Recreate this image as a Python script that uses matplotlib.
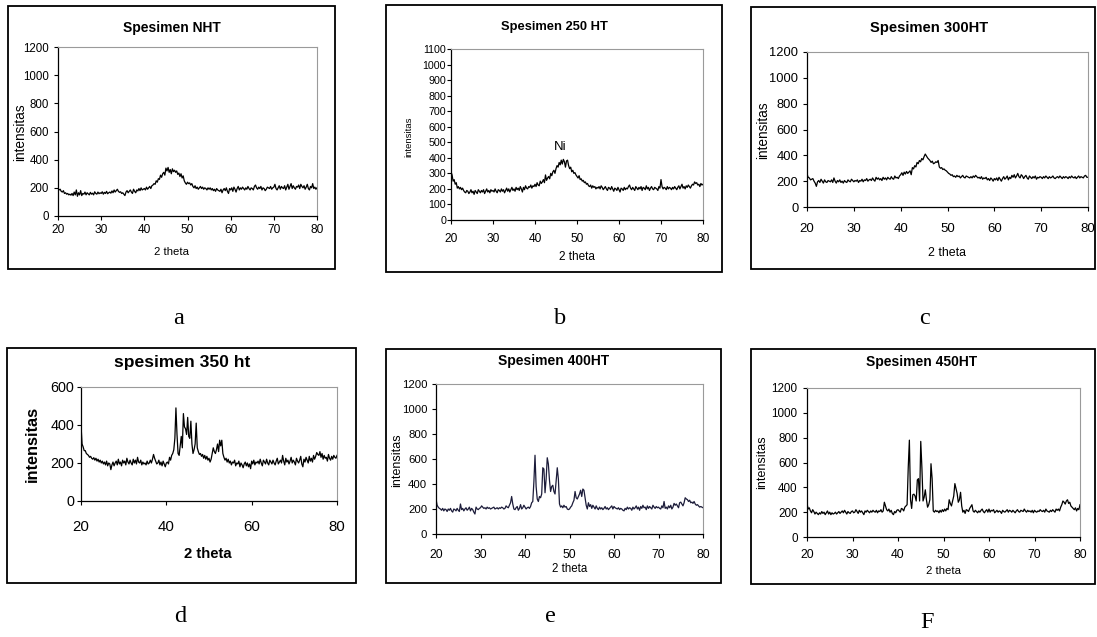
import numpy as np
import matplotlib
matplotlib.use("Agg")
import matplotlib.pyplot as plt
from matplotlib.patches import Rectangle

plt.rcParams['font.family'] = ['Liberation Sans', 'DejaVu Sans']

# ---------------- data (2-theta step 0.25 deg, 20..80) ----------------
int_nht = [
    195,185,190,175,170,180,160,165,155,160,150,155,148,160,145,170,150,185,140,165,
    150,180,145,160,155,170,150,165,158,150,168,155,162,150,172,160,155,170,158,165,
    160,172,155,168,160,175,158,165,170,162,178,165,185,170,180,190,175,168,172,160,
    165,155,145,170,180,165,175,185,170,160,190,175,165,185,178,195,180,200,185,190,
    195,185,205,190,200,210,195,215,220,230,225,250,240,265,260,290,275,300,310,290,
    340,320,345,310,330,300,335,315,325,310,320,295,305,280,300,270,285,250,235,225,
    240,230,235,220,230,210,200,215,195,205,190,200,210,195,205,190,200,195,185,200,
    190,200,185,195,180,190,175,195,185,180,175,190,165,185,195,180,200,175,160,195,
    185,200,175,205,190,170,195,210,185,200,190,205,195,185,200,190,210,195,185,200,
    195,185,210,220,200,190,205,195,210,185,200,195,180,190,205,200,195,210,190,200,
    205,225,195,185,200,215,190,210,200,195,215,185,205,225,190,210,230,195,215,200,
    190,210,205,220,195,225,210,200,215,190,205,225,195,185,210,200,230,195,205,190,
    200]

int_250 = [
    310,290,250,260,230,240,205,215,200,210,195,205,190,180,175,190,185,170,180,195,
    175,185,165,190,180,170,195,185,175,190,180,195,170,185,200,180,190,175,195,185,
    190,180,200,185,175,195,190,180,200,185,195,175,190,205,185,200,180,195,210,190,
    200,185,210,195,205,190,215,200,180,210,195,220,205,200,215,210,225,205,220,215,
    230,215,240,225,220,250,235,245,260,240,290,255,270,280,265,300,285,310,320,300,
    330,350,340,370,355,385,360,390,375,340,380,385,350,330,340,310,320,300,305,290,
    280,270,285,260,265,250,255,240,245,230,235,220,215,225,205,220,210,215,200,210,
    205,215,200,220,210,195,205,215,200,190,210,205,195,215,200,185,205,200,190,210,
    195,180,205,200,190,210,195,205,200,215,225,205,195,210,200,190,215,205,195,210,
    200,215,190,210,205,195,220,200,210,190,205,215,200,195,210,205,200,190,215,205,
    260,215,200,210,205,195,215,200,210,205,195,210,200,215,205,195,210,220,200,215,
    230,205,215,200,220,210,225,215,205,220,230,225,245,235,240,225,230,215,235,225,
    230]

int_300 = [
    255,230,225,210,215,220,200,185,160,195,205,190,215,200,185,210,195,190,205,200,
    195,210,190,225,200,185,205,195,210,190,200,185,205,195,190,210,200,195,215,205,
    195,205,200,210,190,205,200,215,195,210,205,220,200,210,215,205,225,210,200,230,
    215,225,210,220,205,230,215,225,210,230,220,215,235,220,215,240,225,230,220,240,
    250,265,245,270,255,275,260,270,280,250,305,295,320,310,345,335,360,350,375,365,
    390,410,395,380,370,360,345,355,335,340,350,345,360,310,300,305,290,295,285,280,
    270,260,255,245,250,235,240,230,245,235,240,225,235,245,230,225,240,235,230,225,
    235,225,240,230,245,235,225,230,220,235,215,225,220,230,210,220,205,225,215,200,
    220,210,225,205,230,215,200,220,235,215,225,240,210,230,220,245,230,250,225,240,
    260,235,225,250,240,220,235,245,225,215,240,230,220,235,225,240,215,230,225,235,
    230,220,235,225,240,230,220,235,225,230,240,225,220,230,235,225,240,230,220,235,
    225,235,230,220,235,225,240,230,225,235,220,230,240,225,235,230,225,240,245,230,
    230]

int_350 = [
    400,300,285,265,265,250,245,240,230,235,225,220,228,215,225,210,220,205,215,200,
    210,195,205,190,210,185,200,195,165,190,205,185,200,210,190,220,195,205,185,215,
    200,210,190,225,205,195,215,200,190,220,200,215,195,230,205,200,215,190,205,195,
    200,190,210,195,200,215,200,220,245,225,210,195,200,215,190,205,185,210,195,180,
    200,205,195,230,215,240,250,270,330,490,350,250,240,290,340,280,460,390,380,350,
    440,340,330,420,300,250,270,300,410,280,260,245,250,235,245,225,240,220,235,215,
    225,205,220,250,280,260,250,270,300,260,320,290,320,250,230,215,225,205,220,200,
    210,190,205,200,215,185,200,195,210,180,200,190,175,195,205,185,200,180,195,170,
    210,195,215,190,205,200,210,195,220,200,185,215,205,195,220,200,190,215,205,195,
    215,200,190,210,225,195,205,215,200,240,210,190,225,205,215,195,210,230,200,215,
    205,190,225,210,200,215,235,195,180,220,205,230,215,200,235,210,225,205,240,220,
    235,255,245,240,260,230,250,220,240,225,230,210,245,225,215,235,220,240,230,225,
    240]

int_400 = [
    280,230,215,205,200,190,205,185,200,195,180,200,190,205,185,175,200,195,185,205,
    190,180,240,195,205,185,200,210,190,200,215,185,205,195,175,160,215,200,195,205,
    210,225,215,205,210,200,215,205,210,200,205,210,215,200,205,210,200,210,205,215,
    210,200,205,225,215,210,230,250,300,240,200,195,210,220,190,205,235,200,210,230,
    215,200,210,215,205,220,250,260,420,630,380,280,260,300,290,320,530,520,330,440,
    610,560,430,340,380,390,340,320,420,530,440,240,215,225,210,230,215,220,200,195,
    200,215,225,250,270,340,290,280,300,320,350,300,360,350,290,230,200,250,220,235,
    205,230,215,200,225,205,195,215,200,210,195,205,220,200,210,195,205,215,225,200,
    220,210,205,200,210,195,205,200,190,185,205,195,215,200,210,205,190,215,200,210,
    225,200,215,190,220,205,230,210,215,195,225,205,220,210,200,230,215,205,220,210,
    215,205,200,225,210,260,205,215,200,225,210,230,200,215,245,230,240,225,210,250,
    255,240,225,250,290,280,275,260,270,250,255,245,260,240,230,235,225,215,220,215,
    210]

int_450 = [
    270,225,235,210,195,220,205,185,200,190,180,195,185,205,190,200,180,195,210,185,
    200,180,195,185,190,200,185,195,205,190,200,210,195,215,200,185,205,195,190,205,
    210,195,200,220,205,190,215,200,210,195,180,210,200,215,205,195,210,200,215,205,
    200,215,195,210,205,220,200,210,280,250,220,210,225,200,215,190,180,205,195,215,
    220,210,200,230,225,210,240,250,260,560,780,300,230,340,345,330,290,460,470,290,
    770,560,290,320,380,300,240,260,300,590,470,210,200,215,205,210,195,215,200,220,
    205,225,210,230,220,300,270,250,290,330,430,390,350,280,300,360,250,200,215,190,
    220,215,205,230,245,260,210,200,215,205,195,210,200,215,225,205,195,210,220,200,
    225,200,215,210,220,195,205,215,200,210,205,190,215,205,200,210,220,200,215,210,
    200,215,205,195,210,220,205,200,215,210,205,225,210,200,215,205,210,200,215,195,
    215,205,200,210,205,220,210,205,215,200,225,210,205,200,215,205,220,210,200,225,
    215,225,210,240,260,290,280,265,290,300,270,280,250,240,230,220,235,210,230,220,
    260]

titles = ["Spesimen NHT", "Spesimen 250 HT", "Spesimen 300HT",
          "spesimen 350 ht", "Spesimen 400HT", "Spesimen 450HT"]
panel_letters = ["a", "b", "c", "d", "e", "F"]
series = [int_nht, int_250, int_300, int_350, int_400, int_450]
y_ticks = [list(range(0, 1201, 200)), list(range(0, 1101, 100)), list(range(0, 1201, 200)),
           list(range(0, 601, 200)), list(range(0, 1201, 200)), list(range(0, 1201, 200))]
x_ticks = [list(range(20, 81, 10)), list(range(20, 81, 10)), list(range(20, 81, 10)),
           list(range(20, 81, 20)), list(range(20, 81, 10)), list(range(20, 81, 10))]
xlabel = "2 theta"
ylabel = "intensitas"
peak_label = "Ni"

# ---------------- layout (pixels) ----------------
W, H = 1097, 637
fig = plt.figure(figsize=(W / 100, H / 100), dpi=100)

def fx(x):
    return x / W

def fy(y):
    return 1 - y / H

layout = [
    dict(box=(8, 6, 335, 269), ax=(58, 47, 317, 216), title=(172, 28, 10.0), bold=False,
         yl=(20, 132, 9.8), xl=(172, 252, 8.2), ytl=8.3, xtl=8.6, ypad=3.3, xpad=3.0,
         letter=(179, 319)),
    dict(box=(386, 5, 722, 272), ax=(451, 49, 703, 220), title=(554, 27, 9.3), bold=False,
         yl=(409, 137, 6.8), xl=(577, 257, 8.5), ytl=7.7, xtl=8.6, ypad=0.5, xpad=6.5,
         letter=(560, 319)),
    dict(box=(751, 7, 1095, 269), ax=(807, 52, 1088, 207), title=(929, 28, 10.6), bold=False,
         yl=(763, 130, 9.8), xl=(947, 253, 8.9), ytl=9.3, xtl=9.5, ypad=3.3, xpad=8.5,
         letter=(925, 319)),
    dict(box=(7, 348, 356, 583), ax=(81, 387, 337, 501), title=(182, 363, 12.6), bold=True,
         yl=(32, 444, 11.8), xl=(208, 554, 10.7), ytl=10.4, xtl=10.8, ypad=2.0, xpad=10.5,
         letter=(180, 617)),
    dict(box=(386, 349, 721, 583), ax=(436, 384, 703, 534), title=(554, 361, 10.0), bold=False,
         yl=(397, 460, 9.0), xl=(570, 569, 8.3), ytl=8.2, xtl=8.8, ypad=3.3, xpad=7.5,
         letter=(550, 616)),
    dict(box=(751, 349, 1095, 584), ax=(807, 388, 1080, 537), title=(922, 362, 10.0), bold=False,
         yl=(762, 462, 9.0), xl=(943, 571, 8.2), ytl=8.4, xtl=8.8, ypad=3.8, xpad=5.5,
         letter=(927, 622)),
]

line_colors = ['black', 'black', 'black', 'black', '#1c1c3a', 'black']

for i, L in enumerate(layout):
    bx0, by0, bx1, by1 = L['box']
    fig.add_artist(Rectangle((fx(bx0), fy(by1)), (bx1 - bx0) / W, (by1 - by0) / H,
                             transform=fig.transFigure, fill=False, ec='black', lw=1.3))
    ax0, ay0, ax1, ay1 = L['ax']
    ax = fig.add_axes([fx(ax0), fy(ay1), (ax1 - ax0) / W, (ay1 - ay0) / H])
    y = np.array(series[i], dtype=float)
    x = np.linspace(20, 80, len(y))
    ax.plot(x, y, color=line_colors[i], lw=0.9)
    ax.set_xlim(20, 80)
    ax.set_ylim(y_ticks[i][0], y_ticks[i][-1])
    ax.set_xticks(x_ticks[i])
    ax.set_yticks(y_ticks[i])
    ax.set_facecolor('white')
    for s in ['top', 'right']:
        ax.spines[s].set_color('#9a9a9a')
        ax.spines[s].set_linewidth(0.8)
    for s in ['left', 'bottom']:
        ax.spines[s].set_color('black')
        ax.spines[s].set_linewidth(0.9)
    weight = 'bold' if L['bold'] else 'normal'
    ax.tick_params(axis='y', direction='out', length=3, width=0.8, labelsize=L['ytl'], pad=L['ypad'])
    ax.tick_params(axis='x', direction='out', length=3, width=0.8, labelsize=L['xtl'], pad=L['xpad'])
    tx, ty, ts = L['title']
    fig.text(fx(tx), fy(ty), titles[i], ha='center', va='center', fontsize=ts, fontweight='bold')
    lx, ly, ls = L['yl']
    fig.text(fx(lx), fy(ly), ylabel, ha='center', va='center', fontsize=ls, rotation=90,
             fontweight=weight)
    xx, xy, xs = L['xl']
    fig.text(fx(xx), fy(xy), xlabel, ha='center', va='center', fontsize=xs, fontweight=weight)
    px, py = L['letter']
    fig.text(fx(px), fy(py), panel_letters[i], ha='center', va='center', fontsize=17.5,
             family=['Liberation Serif', 'DejaVu Serif'])
    if i == 1:
        ax.text(46, 470, peak_label, ha='center', va='center', fontsize=9.5)

fig.savefig("out.png", dpi=100, facecolor='white')
